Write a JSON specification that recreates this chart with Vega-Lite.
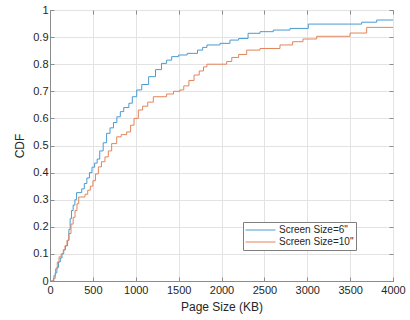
{
  "$schema": "https://vega.github.io/schema/vega-lite/v6.json",
  "width": 343,
  "height": 271,
  "autosize": {"type": "none"},
  "padding": {"left": 50, "top": 10, "right": 17, "bottom": 39},
  "background": "white",
  "config": {
    "font": "Liberation Sans",
    "view": {"stroke": "#8c8c8c", "strokeWidth": 1},
    "axis": {
      "labelFont": "Liberation Sans",
      "titleFont": "Liberation Sans",
      "labelFontSize": 11,
      "titleFontSize": 12,
      "titleFontWeight": "normal",
      "labelColor": "#262626",
      "titleColor": "#262626",
      "gridColor": "#e3e3e3",
      "gridWidth": 1,
      "domainColor": "#8c8c8c",
      "tickColor": "#8c8c8c",
      "tickSize": -4
    }
  },
  "datasets": {
    "cdf": [
      {"size": 0, "cdf": 0, "series": "Screen Size=6\""},
      {"size": 20, "cdf": 0, "series": "Screen Size=6\""},
      {"size": 40, "cdf": 0.01, "series": "Screen Size=6\""},
      {"size": 60, "cdf": 0.03, "series": "Screen Size=6\""},
      {"size": 80, "cdf": 0.05, "series": "Screen Size=6\""},
      {"size": 100, "cdf": 0.07, "series": "Screen Size=6\""},
      {"size": 120, "cdf": 0.085, "series": "Screen Size=6\""},
      {"size": 140, "cdf": 0.1, "series": "Screen Size=6\""},
      {"size": 160, "cdf": 0.115, "series": "Screen Size=6\""},
      {"size": 180, "cdf": 0.13, "series": "Screen Size=6\""},
      {"size": 205, "cdf": 0.15, "series": "Screen Size=6\""},
      {"size": 220, "cdf": 0.19, "series": "Screen Size=6\""},
      {"size": 235, "cdf": 0.23, "series": "Screen Size=6\""},
      {"size": 250, "cdf": 0.26, "series": "Screen Size=6\""},
      {"size": 270, "cdf": 0.28, "series": "Screen Size=6\""},
      {"size": 290, "cdf": 0.3, "series": "Screen Size=6\""},
      {"size": 310, "cdf": 0.326, "series": "Screen Size=6\""},
      {"size": 370, "cdf": 0.34, "series": "Screen Size=6\""},
      {"size": 400, "cdf": 0.36, "series": "Screen Size=6\""},
      {"size": 430, "cdf": 0.38, "series": "Screen Size=6\""},
      {"size": 460, "cdf": 0.4, "series": "Screen Size=6\""},
      {"size": 490, "cdf": 0.42, "series": "Screen Size=6\""},
      {"size": 520, "cdf": 0.435, "series": "Screen Size=6\""},
      {"size": 550, "cdf": 0.45, "series": "Screen Size=6\""},
      {"size": 580, "cdf": 0.48, "series": "Screen Size=6\""},
      {"size": 620, "cdf": 0.51, "series": "Screen Size=6\""},
      {"size": 660, "cdf": 0.545, "series": "Screen Size=6\""},
      {"size": 700, "cdf": 0.565, "series": "Screen Size=6\""},
      {"size": 740, "cdf": 0.585, "series": "Screen Size=6\""},
      {"size": 780, "cdf": 0.606, "series": "Screen Size=6\""},
      {"size": 820, "cdf": 0.625, "series": "Screen Size=6\""},
      {"size": 860, "cdf": 0.64, "series": "Screen Size=6\""},
      {"size": 920, "cdf": 0.656, "series": "Screen Size=6\""},
      {"size": 960, "cdf": 0.68, "series": "Screen Size=6\""},
      {"size": 1011, "cdf": 0.705, "series": "Screen Size=6\""},
      {"size": 1070, "cdf": 0.725, "series": "Screen Size=6\""},
      {"size": 1150, "cdf": 0.754, "series": "Screen Size=6\""},
      {"size": 1230, "cdf": 0.78, "series": "Screen Size=6\""},
      {"size": 1300, "cdf": 0.803, "series": "Screen Size=6\""},
      {"size": 1360, "cdf": 0.815, "series": "Screen Size=6\""},
      {"size": 1419, "cdf": 0.828, "series": "Screen Size=6\""},
      {"size": 1500, "cdf": 0.834, "series": "Screen Size=6\""},
      {"size": 1600, "cdf": 0.84, "series": "Screen Size=6\""},
      {"size": 1720, "cdf": 0.852, "series": "Screen Size=6\""},
      {"size": 1780, "cdf": 0.862, "series": "Screen Size=6\""},
      {"size": 1830, "cdf": 0.871, "series": "Screen Size=6\""},
      {"size": 1983, "cdf": 0.877, "series": "Screen Size=6\""},
      {"size": 2099, "cdf": 0.889, "series": "Screen Size=6\""},
      {"size": 2200, "cdf": 0.895, "series": "Screen Size=6\""},
      {"size": 2310, "cdf": 0.914, "series": "Screen Size=6\""},
      {"size": 2449, "cdf": 0.92, "series": "Screen Size=6\""},
      {"size": 2604, "cdf": 0.926, "series": "Screen Size=6\""},
      {"size": 2799, "cdf": 0.932, "series": "Screen Size=6\""},
      {"size": 3012, "cdf": 0.948, "series": "Screen Size=6\""},
      {"size": 3635, "cdf": 0.955, "series": "Screen Size=6\""},
      {"size": 3810, "cdf": 0.963, "series": "Screen Size=6\""},
      {"size": 4000, "cdf": 0.963, "series": "Screen Size=6\""},
      {"size": 0, "cdf": 0, "series": "Screen Size=10\""},
      {"size": 25, "cdf": 0, "series": "Screen Size=10\""},
      {"size": 45, "cdf": 0.02, "series": "Screen Size=10\""},
      {"size": 65, "cdf": 0.045, "series": "Screen Size=10\""},
      {"size": 85, "cdf": 0.07, "series": "Screen Size=10\""},
      {"size": 105, "cdf": 0.089, "series": "Screen Size=10\""},
      {"size": 130, "cdf": 0.1, "series": "Screen Size=10\""},
      {"size": 155, "cdf": 0.115, "series": "Screen Size=10\""},
      {"size": 175, "cdf": 0.13, "series": "Screen Size=10\""},
      {"size": 198, "cdf": 0.15, "series": "Screen Size=10\""},
      {"size": 220, "cdf": 0.175, "series": "Screen Size=10\""},
      {"size": 245, "cdf": 0.21, "series": "Screen Size=10\""},
      {"size": 270, "cdf": 0.235, "series": "Screen Size=10\""},
      {"size": 292, "cdf": 0.26, "series": "Screen Size=10\""},
      {"size": 315, "cdf": 0.285, "series": "Screen Size=10\""},
      {"size": 335, "cdf": 0.31, "series": "Screen Size=10\""},
      {"size": 408, "cdf": 0.32, "series": "Screen Size=10\""},
      {"size": 440, "cdf": 0.335, "series": "Screen Size=10\""},
      {"size": 470, "cdf": 0.35, "series": "Screen Size=10\""},
      {"size": 500, "cdf": 0.37, "series": "Screen Size=10\""},
      {"size": 530, "cdf": 0.395, "series": "Screen Size=10\""},
      {"size": 564, "cdf": 0.421, "series": "Screen Size=10\""},
      {"size": 600, "cdf": 0.44, "series": "Screen Size=10\""},
      {"size": 641, "cdf": 0.458, "series": "Screen Size=10\""},
      {"size": 680, "cdf": 0.48, "series": "Screen Size=10\""},
      {"size": 719, "cdf": 0.507, "series": "Screen Size=10\""},
      {"size": 778, "cdf": 0.532, "series": "Screen Size=10\""},
      {"size": 830, "cdf": 0.54, "series": "Screen Size=10\""},
      {"size": 894, "cdf": 0.55, "series": "Screen Size=10\""},
      {"size": 940, "cdf": 0.575, "series": "Screen Size=10\""},
      {"size": 980, "cdf": 0.6, "series": "Screen Size=10\""},
      {"size": 1030, "cdf": 0.631, "series": "Screen Size=10\""},
      {"size": 1080, "cdf": 0.645, "series": "Screen Size=10\""},
      {"size": 1140, "cdf": 0.66, "series": "Screen Size=10\""},
      {"size": 1205, "cdf": 0.68, "series": "Screen Size=10\""},
      {"size": 1360, "cdf": 0.69, "series": "Screen Size=10\""},
      {"size": 1440, "cdf": 0.7, "series": "Screen Size=10\""},
      {"size": 1516, "cdf": 0.705, "series": "Screen Size=10\""},
      {"size": 1560, "cdf": 0.72, "series": "Screen Size=10\""},
      {"size": 1620, "cdf": 0.74, "series": "Screen Size=10\""},
      {"size": 1680, "cdf": 0.76, "series": "Screen Size=10\""},
      {"size": 1740, "cdf": 0.775, "series": "Screen Size=10\""},
      {"size": 1790, "cdf": 0.79, "series": "Screen Size=10\""},
      {"size": 1830, "cdf": 0.8, "series": "Screen Size=10\""},
      {"size": 2060, "cdf": 0.81, "series": "Screen Size=10\""},
      {"size": 2120, "cdf": 0.825, "series": "Screen Size=10\""},
      {"size": 2200, "cdf": 0.836, "series": "Screen Size=10\""},
      {"size": 2294, "cdf": 0.852, "series": "Screen Size=10\""},
      {"size": 2449, "cdf": 0.858, "series": "Screen Size=10\""},
      {"size": 2682, "cdf": 0.871, "series": "Screen Size=10\""},
      {"size": 2830, "cdf": 0.883, "series": "Screen Size=10\""},
      {"size": 2950, "cdf": 0.893, "series": "Screen Size=10\""},
      {"size": 3110, "cdf": 0.903, "series": "Screen Size=10\""},
      {"size": 3499, "cdf": 0.915, "series": "Screen Size=10\""},
      {"size": 3693, "cdf": 0.936, "series": "Screen Size=10\""},
      {"size": 4000, "cdf": 0.936, "series": "Screen Size=10\""}
    ]
  },
  "data": {"name": "cdf"},
  "layer": [
    {
      "mark": {"type": "line", "interpolate": "step-after", "strokeWidth": 1, "clip": true},
      "encoding": {
        "x": {
          "field": "size", "type": "quantitative",
          "scale": {"domain": [0, 4000], "nice": false},
          "axis": {"title": "Page Size (KB)", "values": [0, 500, 1000, 1500, 2000, 2500, 3000, 3500, 4000], "format": "d", "labelPadding": 7, "titlePadding": 6, "labelFlush": false}
        },
        "y": {
          "field": "cdf", "type": "quantitative",
          "scale": {"domain": [0, 1], "nice": false},
          "axis": {"title": "CDF", "values": [0, 0.1, 0.2, 0.3, 0.4, 0.5, 0.6, 0.7, 0.8, 0.9, 1], "format": ".1~f", "labelPadding": 6, "titlePadding": 6, "labelFlush": false}
        },
        "color": {
          "field": "series", "type": "nominal",
          "scale": {"domain": ["Screen Size=6\"", "Screen Size=10\""], "range": ["#4a9bd1", "#e3845a"]},
          "legend": {
            "title": null,
            "orient": "none",
            "legendX": 193,
            "legendY": 212,
            "symbolType": "stroke",
            "symbolSize": 900,
            "symbolStrokeWidth": 1,
            "clipHeight": 12,
            "labelFontSize": 10,
            "labelColor": "#262626",
            "labelFont": "Liberation Sans",
            "strokeColor": "#7f7f7f",
            "fillColor": "white",
            "padding": 2,
            "rowPadding": 0,
            "labelOffset": 3
          }
        }
      }
    },
    {
      "mark": {"type": "line", "opacity": 0},
      "encoding": {
        "x": {
          "field": "size", "type": "quantitative",
          "scale": {"domain": [0, 4000], "nice": false},
          "axis": {"orient": "top", "title": null, "labels": false, "grid": false, "domain": false, "values": [0, 500, 1000, 1500, 2000, 2500, 3000, 3500, 4000]}
        },
        "y": {
          "field": "cdf", "type": "quantitative",
          "scale": {"domain": [0, 1], "nice": false},
          "axis": {"orient": "right", "title": null, "labels": false, "grid": false, "domain": false, "values": [0, 0.1, 0.2, 0.3, 0.4, 0.5, 0.6, 0.7, 0.8, 0.9, 1]}
        },
        "detail": {"field": "series"}
      }
    }
  ],
  "resolve": {"axis": {"x": "independent", "y": "independent"}}
}
